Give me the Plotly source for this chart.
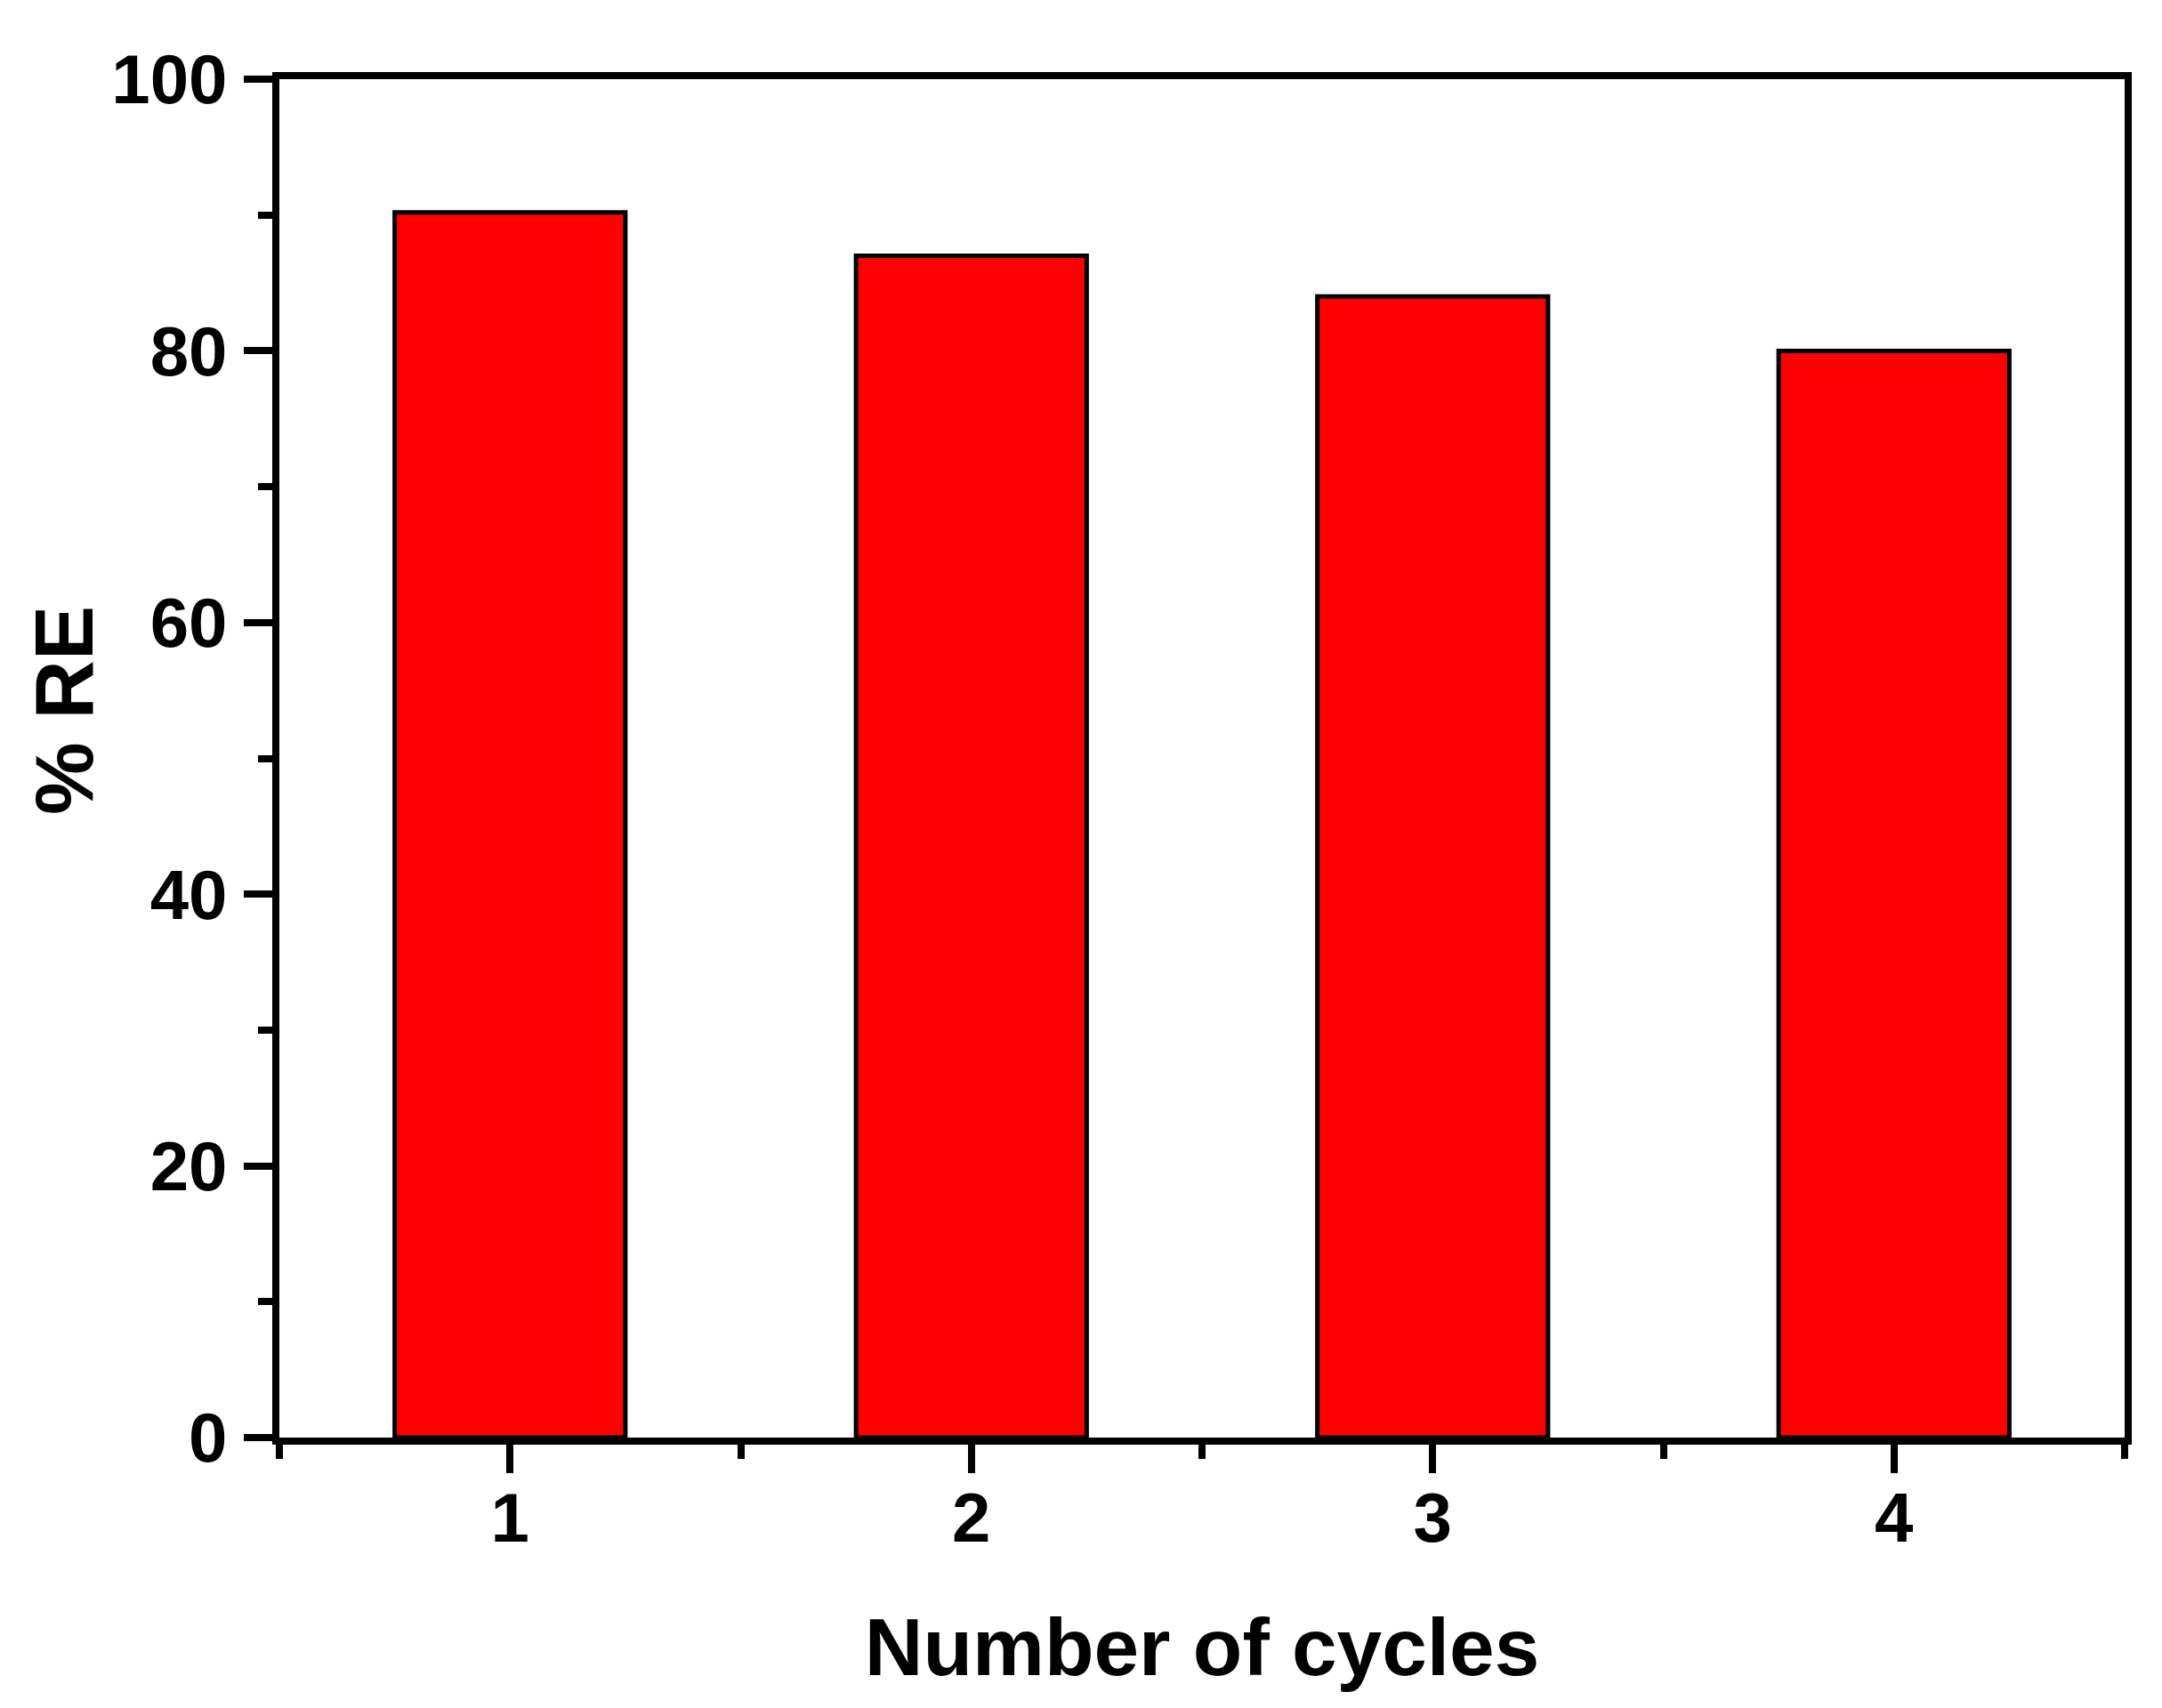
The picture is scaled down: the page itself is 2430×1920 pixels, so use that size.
import plotly.graph_objects as go

# recycling data
cycles = [1, 2, 3, 4]
removal = [90.2, 87.0, 84.0, 80.0]
y_ticks = [0, 20, 40, 60, 80, 100]

fnt = "Liberation Sans, Arial, sans-serif"

fig = go.Figure()
fig.add_trace(go.Bar(x=cycles, y=removal, width=0.5,
                     marker=dict(color="#FF0000", line=dict(color="black", width=5))))

fig.update_layout(
    width=2430, height=1920,
    plot_bgcolor="white", paper_bgcolor="white",
    margin=dict(l=306, r=50, t=81, b=312),
    showlegend=False,
    font=dict(family=fnt, color="black"),
)

fig.update_xaxes(
    range=[0.5, 4.5], tickvals=cycles, ticktext=[str(c) for c in cycles],
    showline=True, linecolor="black", linewidth=8, mirror=True,
    ticks="outside", ticklen=32, tickwidth=8, tickcolor="black",
    minor=dict(ticks="outside", ticklen=16, tickwidth=8, tickcolor="black",
               tick0=0.5, dtick=1),
    showgrid=False, zeroline=False,
    tickfont=dict(size=78, family=fnt, weight="bold"),
    ticklabelstandoff=-17,
    title=dict(text="Number of cycles", standoff=74,
               font=dict(size=91, family=fnt, weight="bold")),
)

fig.update_yaxes(
    range=[0, 100], tickvals=y_ticks,
    showline=True, linecolor="black", linewidth=8, mirror=True,
    ticks="outside", ticklen=32, tickwidth=8, tickcolor="black",
    minor=dict(ticks="outside", ticklen=16, tickwidth=8, tickcolor="black",
               tick0=0, dtick=10),
    showgrid=False, zeroline=False,
    tickfont=dict(size=78, family=fnt, weight="bold"),
    ticklabelstandoff=3,
)

# y title as annotation (sits a bit above the centre in the original)
fig.add_annotation(text="% RE", textangle=-90, showarrow=False,
                   xref="paper", yref="paper", x=0, y=0.535,
                   xanchor="center", yanchor="middle", xshift=-242,
                   font=dict(size=92, family=fnt, weight="bold"))

fig.write_html("out.html")
